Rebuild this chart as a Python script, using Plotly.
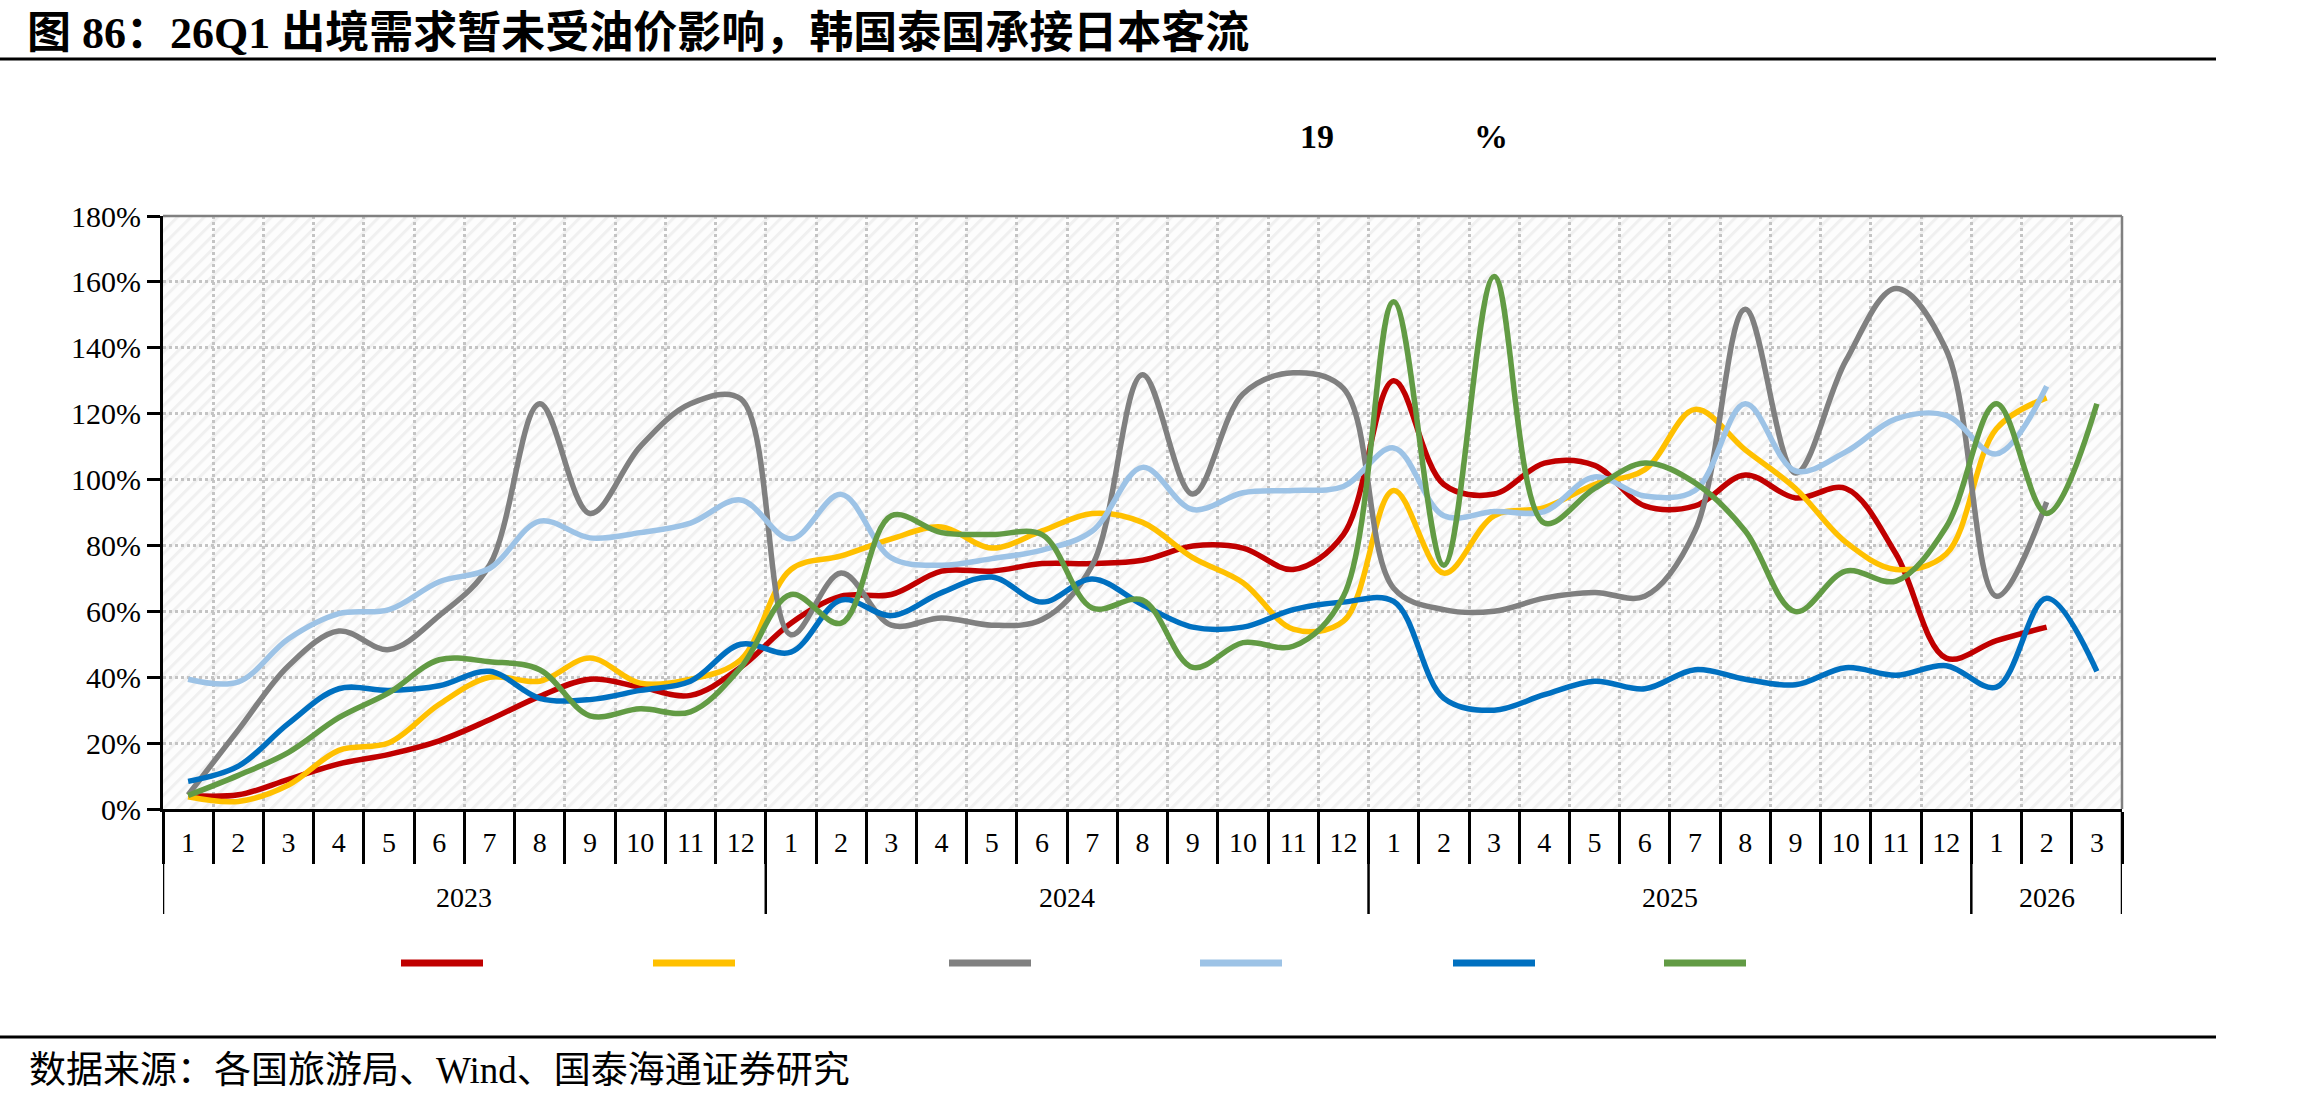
import base64
import plotly.graph_objects as go

# ---------------- data ----------------
YEARS = ["2023", "2024", "2025", "2026"]
MONTH_COUNTS = [12, 12, 12, 3]

SERIES_NAMES = ["系列1", "系列2", "系列3", "系列4", "系列5", "系列6"]
SERIES_COLORS = ["#C00000", "#FFC000", "#808080", "#9DC3E6", "#0070C0", "#629B44"]

red = [4.1, 4.3, 9.0, 13.7, 16.6, 20.7, 27.1, 34.2, 39.4, 37.0, 34.5, 43.0,
       56.4, 64.6, 65.1, 72.2, 72.2, 74.5, 74.5, 75.5, 79.8, 79.2, 72.7, 83.3,
       130.0, 98.5, 95.6, 105.0, 104.3, 92.0, 92.0, 101.4, 94.4, 97.3, 77.4, 45.8,
       51.1, 55.2, None]
yellow = [3.7, 2.3, 7.3, 17.8, 20.1, 31.8, 40.0, 38.8, 45.8, 38.2, 39.4, 45.3,
          72.7, 76.8, 82.0, 85.6, 79.2, 84.4, 89.7, 87.0, 76.3, 68.7, 54.6, 57.0,
          96.7, 71.6, 89.0, 91.5, 98.5, 103.0, 121.3, 109.0, 97.3, 81.0, 72.7, 77.4,
          115.4, 124.8, None]
gray = [4.3, 24.0, 43.5, 54.0, 48.4, 58.7, 74.0, 123.0, 89.7, 110.0, 123.0, 124.5,
        52.9, 71.6, 55.8, 58.0, 55.8, 57.5, 74.0, 131.8, 95.6, 126.0, 132.4, 127.7,
        67.0, 60.5, 60.0, 64.0, 65.7, 64.6, 84.4, 151.7, 102.0, 136.0, 158.0, 139.4,
        64.6, 93.2, None]
light_blue = [39.4, 38.6, 51.7, 59.3, 60.5, 69.0, 73.0, 87.4, 82.3, 83.9, 86.8, 93.8,
              82.0, 95.5, 76.2, 74.0, 76.0, 78.6, 84.4, 103.7, 90.9, 96.0, 96.7, 97.9,
              109.6, 89.0, 90.3, 90.3, 100.8, 95.0, 96.7, 123.0, 102.6, 108.4, 118.4, 119.5,
              107.8, 128.3, None]
blue = [8.4, 13.0, 26.0, 36.5, 36.0, 37.4, 41.8, 33.6, 33.2, 36.0, 38.8, 50.0,
        47.6, 63.4, 58.7, 65.7, 70.4, 62.8, 69.8, 62.0, 55.2, 55.2, 60.5, 62.8,
        63.0, 33.6, 30.0, 34.7, 38.8, 36.5, 42.3, 39.4, 37.7, 42.9, 40.6, 43.5,
        37.0, 64.0, 41.8]
green = [4.1, 10.2, 17.2, 27.7, 35.3, 45.3, 44.7, 42.3, 28.3, 30.4, 29.5, 42.9,
         65.1, 56.4, 89.0, 83.9, 83.3, 83.3, 61.0, 63.4, 43.0, 50.5, 49.4, 64.6,
         154.0, 74.0, 161.6, 86.8, 97.3, 105.0, 99.0, 84.4, 59.9, 72.2, 69.2, 85.6,
         123.0, 89.7, 123.0]

SERIES = [red, yellow, gray, light_blue, blue, green]

Y_TICKS = [0, 20, 40, 60, 80, 100, 120, 140, 160, 180]

TITLE = "图 86：26Q1 出境需求暂未受油价影响，韩国泰国承接日本客流"
SUBTITLE_PARTS = ["19", "%"]
SOURCE = "数据来源：各国旅游局、Wind、国泰海通证券研究"

# ---------------- derived categories ----------------
categories, month_labels = [], []
for yr, n in zip(YEARS, MONTH_COUNTS):
    for m in range(1, n + 1):
        categories.append(f"{yr}-{m}")
        month_labels.append(str(m))

# ---------------- layout geometry (pixels) ----------------
W, H = 2324, 1107
PL, PR, PT, PB = 163, 2122, 216, 809
PW, PH = PR - PL, PB - PT


def px_x(px):
    return (px - PL) / PW


def px_y(py):
    return (PB - py) / PH


SERIF = "Liberation Serif, Noto Sans CJK SC"

fig = go.Figure()
for name, color, vals in zip(SERIES_NAMES, SERIES_COLORS, SERIES):
    fig.add_trace(go.Scatter(
        x=categories, y=vals, name=name, mode="lines",
        line=dict(color=color, width=5.5, shape="spline", smoothing=1.0),
        showlegend=False, connectgaps=False,
    ))

# hatch background for the plot area
svg = (f'<svg xmlns="http://www.w3.org/2000/svg" width="{PW}" height="{PH}" '
       f'viewBox="0 0 {PW} {PH}"><defs><pattern id="h" width="9.5" height="9.5" '
       f'patternUnits="userSpaceOnUse" patternTransform="rotate(45)">'
       f'<rect width="9.5" height="9.5" fill="#fdfdfd"/>'
       f'<rect width="3" height="9.5" fill="#f0f0f0"/></pattern></defs>'
       f'<rect width="{PW}" height="{PH}" fill="url(#h)"/></svg>')
svg_uri = "data:image/svg+xml;base64," + base64.b64encode(svg.encode()).decode()

shapes = []
# top and right plot borders (gray)
shapes.append(dict(type="line", xref="paper", yref="paper", x0=0, x1=1, y0=1, y1=1,
                   line=dict(color="#808080", width=2.5)))
shapes.append(dict(type="line", xref="paper", yref="paper", x0=1, x1=1, y0=0, y1=1,
                   line=dict(color="#808080", width=2.5)))
# year separators
bounds = [-0.5]
acc = -0.5
for n in MONTH_COUNTS:
    acc += n
    bounds.append(acc)
for b in bounds:
    shapes.append(dict(type="line", xref="x", yref="paper", x0=b, x1=b,
                       y0=0, y1=px_y(914), line=dict(color="black", width=2.5)))
# header/footer rules
for yy in (59, 1037):
    shapes.append(dict(type="line", xref="paper", yref="paper",
                       x0=px_x(0), x1=px_x(2216), y0=px_y(yy), y1=px_y(yy),
                       line=dict(color="black", width=3)))
# legend keys (labels not rendered in the source)
legend_centers = [442, 694, 990, 1241, 1494, 1705]
for cx, color in zip(legend_centers, SERIES_COLORS):
    shapes.append(dict(type="line", xref="paper", yref="paper",
                       x0=px_x(cx - 41), x1=px_x(cx + 41), y0=px_y(963), y1=px_y(963),
                       line=dict(color=color, width=7)))

annotations = []
# year labels
start = 0
for yr, n in zip(YEARS, MONTH_COUNTS):
    annotations.append(dict(x=start + (n - 1) / 2, y=px_y(897), xref="x", yref="paper",
                            text=yr, showarrow=False, xanchor="center", yanchor="middle",
                            font=dict(family=SERIF, size=28, color="black")))
    start += n
# subtitle fragments
for txt, cx in zip(SUBTITLE_PARTS, [1317, 1491]):
    annotations.append(dict(x=px_x(cx), y=px_y(137), xref="paper", yref="paper",
                            text=f"<b>{txt}</b>", showarrow=False,
                            xanchor="center", yanchor="middle",
                            font=dict(family=SERIF, size=34, color="black")))
# source
annotations.append(dict(x=px_x(27), y=px_y(1070), xref="paper", yref="paper",
                        text=SOURCE, showarrow=False, xanchor="left", yanchor="middle",
                        font=dict(family=SERIF, size=37, color="black")))

fig.update_layout(
    width=W, height=H,
    margin=dict(l=PL, r=W - PR, t=PT, b=H - PB, pad=0),
    paper_bgcolor="white", plot_bgcolor="rgba(0,0,0,0)",
    title=dict(text=f"<b>{TITLE}</b>", x=27 / W, xanchor="left", xref="container",
               y=1 - 33 / H, yanchor="middle", yref="container",
               font=dict(family=SERIF, size=44, color="black")),
    images=[dict(source=svg_uri, xref="paper", yref="paper", x=0, y=1,
                 sizex=1, sizey=1, sizing="stretch", layer="below",
                 xanchor="left", yanchor="top")],
    shapes=shapes, annotations=annotations,
    xaxis=dict(type="category", categoryorder="array", categoryarray=categories,
               range=[-0.5, len(categories) - 0.5],
               tickmode="array", tickvals=categories, ticktext=month_labels,
               tickson="boundaries", ticks="outside", ticklen=52, tickwidth=2.5,
               tickcolor="black", ticklabelstandoff=6,
               tickfont=dict(family=SERIF, size=28, color="black"),
               showline=True, linecolor="black", linewidth=3,
               showgrid=True, gridcolor="#C4C4C4", griddash="dot", gridwidth=2.5,
               zeroline=False, fixedrange=True),
    yaxis=dict(range=[0, 180], tickmode="array", tickvals=Y_TICKS,
               ticktext=[f"{v}%" for v in Y_TICKS],
               ticks="outside", ticklen=13, tickwidth=2.5, tickcolor="black",
               tickfont=dict(family=SERIF, size=30, color="black"),
               showline=True, linecolor="black", linewidth=3,
               showgrid=True, gridcolor="#C4C4C4", griddash="dot", gridwidth=2.5,
               zeroline=False, fixedrange=True),
)

fig.write_html("out.html")
